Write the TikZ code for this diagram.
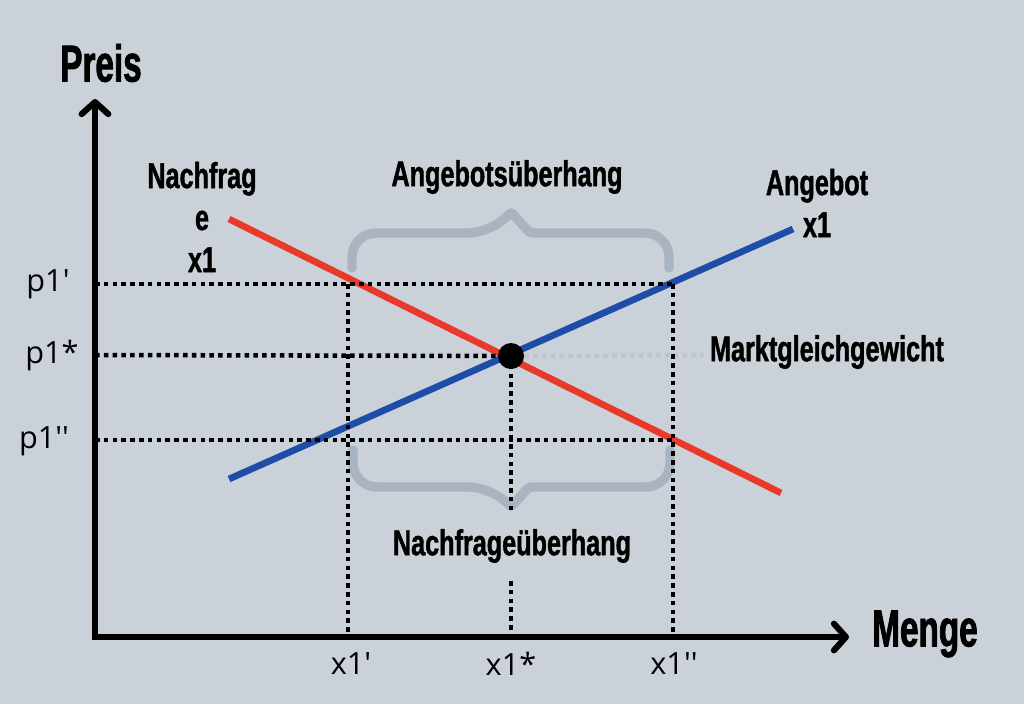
\documentclass[tikz,border=0pt]{standalone}
\usepackage{fontspec}
\usepackage{tikz}
\usetikzlibrary{arrows.meta}

\newfontfamily\titlefont{Liberation Sans}[FakeStretch=0.64,FakeBold=1.5]
\newfontfamily\tagfont{Liberation Sans}[FakeStretch=0.7,FakeBold=1.2]
\newfontfamily\tickfont{Open Sans}

\definecolor{bg}{RGB}{202,209,217}
\definecolor{demand}{RGB}{232,57,43}
\definecolor{supply}{RGB}{30,77,168}
\definecolor{braceg}{RGB}{168,180,192}
\definecolor{faint}{RGB}{188,197,206}

\begin{document}
\begin{tikzpicture}[x=0.75pt, y=-0.75pt,
    axis/.style={line width=4.6pt, -{Straight Barb[length=9pt,width=20pt,round]}},
    guide/.style={line width=3.4pt, dash pattern=on 3.4pt off 3.2pt},
    curve/.style={line width=5pt},
    brace/.style={draw=braceg, line width=7pt, line cap=round},
    title/.style={font=\titlefont\bfseries\fontsize{39}{40}\selectfont},
    tag/.style={font=\tagfont\bfseries\fontsize{27}{31.5}\selectfont, align=center},
    tick/.style={font=\tickfont\fontsize{23}{26}\selectfont}]

\path[use as bounding box, fill=bg] (0,0) rectangle (1024,704);

% axes and levels
\coordinate (O) at (95,637);
\coordinate (ytip) at (95,99);
\coordinate (xtip) at (849,637);
\coordinate (pA) at (95,284);
\coordinate (pS) at (95,355);
\coordinate (pB) at (95,440);
\coordinate (xA) at (348,637);
\coordinate (xS) at (511,637);
\coordinate (xB) at (673,637);

% braces
\draw[brace] (352,268) [rounded corners=18pt] -- (352,233) -- (492,233)
    [rounded corners=2pt] -- (511,212) -- (530,233)
    [rounded corners=18pt] -- (669,233) -- (669,268);
\draw[brace] (353,450) [rounded corners=18pt] -- (353,487) -- (493,487)
    [rounded corners=2pt] -- (511,507) -- (529,487)
    [rounded corners=18pt] -- (670,487) -- (670,450);

% demand and supply
\coordinate (d1) at (229,219);
\coordinate (d2) at (781,493);
\coordinate (s1) at (229,479);
\coordinate (s2) at (793,229);
\draw[curve, demand] (d1) -- (d2);
\draw[curve, supply] (s1) -- (s2);

% equilibrium
\node (eq) [circle, fill=black, inner sep=0pt, minimum size=19.5pt] at (511,356) {};

% guide lines
\draw[guide] (pA) -- (pA -| xB);
\draw[guide] (pS) -- (eq.center);
\draw[guide] (pB) -- (pB -| xB);
\draw[guide, faint] (eq.east) -- (703,355);
\draw[guide] (pA -| xA) -- (xA);
\draw[guide] (pA -| xB) -- (xB);
\draw[guide] (eq.center) -- (511,512);
\draw[guide] (511,581) -- (xS);

% axes
\draw[axis] (O) -- (ytip);
\draw[axis] ([xshift=-2.3pt]O) -- (xtip);

% labels
\node (preis) [title] at (101,63) {Preis};
\node (menge) [title] at (925,634) {Menge};
\node (nachfrage) [tag] at (202,217) {Nachfrag\\e\\x1};
\node (angebot) [tag] at (817,203) {Angebot\\x1};
\node (ueberA) [tag] at (507,177) {Angebotsüberhang};
\node (ueberN) [tag] at (512,546) {Nachfrageüberhang};
\node (gg) [tag] at (827,352) {Marktgleichgewicht};

\node (tpA) [tick] at (48,284) {p1'};
\node (tpS) [tick] at (52,356) {p1*};
\node (tpB) [tick] at (44,441) {p1''};
\node (txA) [tick] at (351,664) {x1'};
\node (txS) [tick] at (511,664) {x1*};
\node (txB) [tick] at (674,664) {x1''};

\end{tikzpicture}
\end{document}
